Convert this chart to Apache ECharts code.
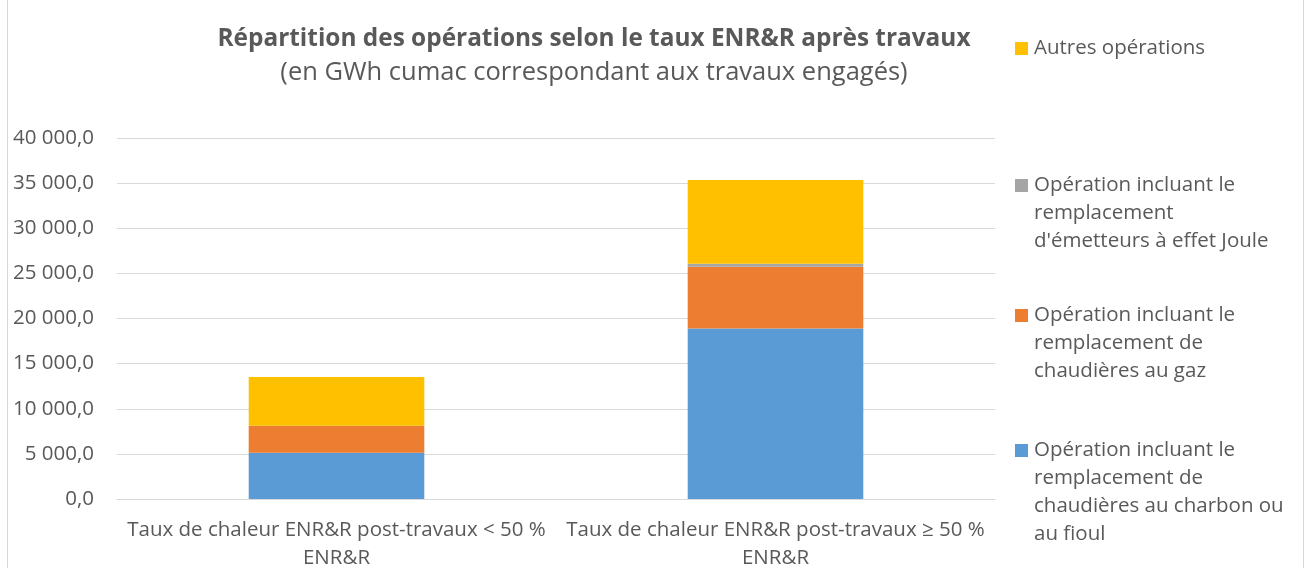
<!DOCTYPE html>
<html>
<head>
<meta charset="utf-8">
<script src="https://cdn.jsdelivr.net/npm/echarts@6/dist/echarts.min.js"></script>
<style>
  html, body { margin: 0; padding: 0; background: #fff; }
  #main { width: 1306px; height: 568px; }
</style>
</head>
<body>
<div id="main"></div>
<script>
var categories = [
  "Taux de chaleur ENR&R post-travaux < 50 % ENR&R",
  "Taux de chaleur ENR&R post-travaux \u2265 50 % ENR&R"
];
var seriesNames = [
  "Opération incluant le remplacement de chaudières au charbon ou au fioul",
  "Opération incluant le remplacement de chaudières au gaz",
  "Opération incluant le remplacement d'émetteurs à effet Joule",
  "Autres opérations"
];
var charbonFioul = [5130, 18900];
var gaz = [2990, 6840];
var effetJoule = [0, 330];
var autres = [5400, 9280];
var colors = ["#5b9bd5", "#ed7d31", "#a5a5a5", "#ffc000"];

var fontFamily = "'Open Sans', sans-serif";
var textColor = "#595959";

function frNumber(v) {
  var s = Math.round(v).toString().replace(/\B(?=(\d{3})+(?!\d))/g, " ");
  return s + ",0";
}

// coupe un texte en lignes (par mots) sans espace en debut de ligne
var measureCtx = document.createElement("canvas").getContext("2d");
function wrapText(text, font, maxWidth) {
  measureCtx.font = font;
  var words = text.split(" ");
  var lines = [];
  var line = "";
  words.forEach(function (w) {
    var test = line ? line + " " + w : w;
    if (line && measureCtx.measureText(test).width > maxWidth) {
      lines.push(line);
      line = w;
    } else {
      line = test;
    }
  });
  if (line) lines.push(line);
  return lines.join("\n");
}

var myChart = echarts.init(document.getElementById("main"));
var values = [charbonFioul, gaz, effetJoule, autres];

// legende faite a la main : carre aligne sur la premiere ligne
var legendFont = "20.5px " + fontFamily;
var legendTops = [34, 171, 301, 436];
var legendGraphics = [3, 2, 1, 0].map(function (idx, i) {
  return {
    type: "group",
    left: 1015,
    top: legendTops[i],
    children: [
      {
        type: "rect",
        shape: { x: 0, y: 8, width: 13, height: 13 },
        style: { fill: colors[idx] }
      },
      {
        type: "text",
        x: 19,
        y: 0,
        style: {
          text: wrapText(seriesNames[idx], legendFont, 254),
          fill: textColor,
          font: legendFont,
          lineHeight: 28
        }
      }
    ]
  };
});

myChart.setOption({
  animation: false,
  color: colors,
  title: {
    text: "Répartition des opérations selon le taux ENR&R après travaux",
    subtext: "(en GWh cumac correspondant aux travaux engagés)",
    left: 589,
    textAlign: "center",
    top: 22,
    itemGap: 9,
    textStyle: { fontFamily: fontFamily, fontSize: 24.4, fontWeight: "bold", color: textColor },
    subtextStyle: { fontFamily: fontFamily, fontSize: 25.5, color: textColor }
  },
  grid: { left: 117, right: 311, top: 138, bottom: 69, outerBoundsMode: "none", containLabel: false },
  xAxis: {
    type: "category",
    data: categories,
    axisLine: { lineStyle: { color: "#d9d9d9", width: 1 } },
    axisTick: { show: false },
    axisLabel: {
      color: textColor,
      fontFamily: fontFamily,
      fontSize: 20.5,
      lineHeight: 28,
      margin: 17,
      formatter: function (v) {
        return wrapText(v, "20.5px " + fontFamily, 436);
      },
      interval: 0
    }
  },
  yAxis: {
    type: "value",
    min: 0,
    max: 40000,
    interval: 5000,
    axisLine: { show: false },
    axisTick: { show: false },
    splitLine: { lineStyle: { color: "#d9d9d9", width: 1 } },
    axisLabel: {
      color: textColor,
      fontFamily: fontFamily,
      fontSize: 20.5,
      margin: 23,
      formatter: frNumber
    }
  },
  graphic: [{
    type: "rect",
    shape: { x: 7.5, y: -2, width: 1296, height: 572 },
    style: { fill: "none", stroke: "#d9d9d9", lineWidth: 1 },
    silent: true
  }].concat(legendGraphics),
  series: values.map(function (v, i) {
    return {
      name: seriesNames[i],
      type: "bar",
      stack: "total",
      barWidth: "40%",
      data: v
    };
  })
});
</script>
</body>
</html>
